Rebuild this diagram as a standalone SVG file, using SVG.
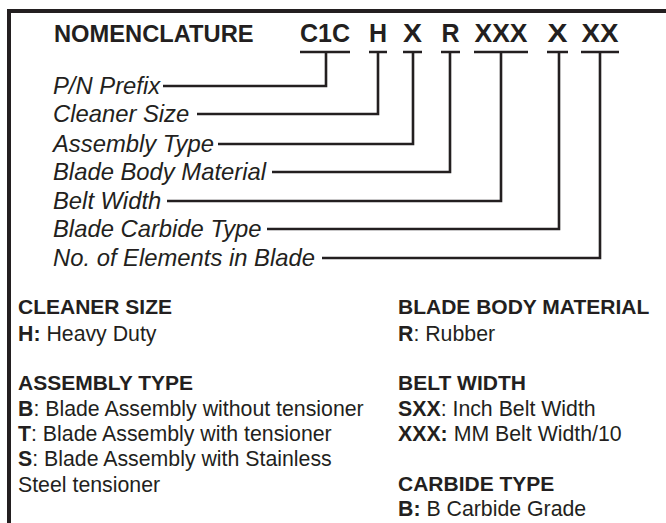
<svg xmlns="http://www.w3.org/2000/svg" width="666" height="523" viewBox="0 0 666 523">
<style>
text{fill:#231f20;font-family:"Liberation Sans",Arial,sans-serif}
.hd{font-size:23.7px;font-weight:bold}
.code{font-size:25px;font-weight:bold;text-anchor:middle}
.lbl{font-size:23.8px;font-style:italic}
.sec{font-size:21px;font-weight:bold}
.body{font-size:21.3px}
.body tspan.k{font-weight:bold}
.ln{fill:none;stroke:#231f20;stroke-width:2.6}
.frame{fill:none;stroke:#231f20;stroke-width:4}
</style>
<rect width="666" height="523" fill="#fff"/>
<path class="frame" d="M9,523 V11 H666"/>
<g id="header">
<text class="hd" x="54" y="42">NOMENCLATURE</text>
<text class="code" x="325" y="42" textLength="50" lengthAdjust="spacingAndGlyphs">C1C</text>
<text class="code" x="378" y="42">H</text>
<text class="code" x="412.5" y="42" textLength="19" lengthAdjust="spacingAndGlyphs">X</text>
<text class="code" x="450.5" y="42">R</text>
<text class="code" x="501" y="42" textLength="53" lengthAdjust="spacingAndGlyphs">XXX</text>
<text class="code" x="557.5" y="42" textLength="20" lengthAdjust="spacingAndGlyphs">X</text>
<text class="code" x="600" y="42" textLength="37" lengthAdjust="spacingAndGlyphs">XX</text>
</g>
<g id="labels">
<text class="lbl" x="53" y="94">P/N Prefix</text>
<text class="lbl" x="53" y="122">Cleaner Size</text>
<text class="lbl" x="53" y="152">Assembly Type</text>
<text class="lbl" x="53" y="180">Blade Body Material</text>
<text class="lbl" x="53" y="209">Belt Width</text>
<text class="lbl" x="53" y="237">Blade Carbide Type</text>
<text class="lbl" x="53" y="266">No. of Elements in Blade</text>
</g>
<g id="connectors">
<path class="ln" d="M300,52 H350 M326,52 V86 H163"/>
<path class="ln" d="M369,52 H387 M378,52 V114 H197"/>
<path class="ln" d="M403,52 H422 M413,52 V144 H218"/>
<path class="ln" d="M441,52 H460 M450,52 V172 H272"/>
<path class="ln" d="M474,52 H528 M501,52 V201 H167"/>
<path class="ln" d="M547,52 H568 M559,52 V229 H267"/>
<path class="ln" d="M581,52 H619 M600,52 V258 H322"/>
</g>
<g id="cleaner-size">
<text class="sec" x="18" y="314">CLEANER SIZE</text>
<text class="body" x="18" y="341"><tspan class="k">H:</tspan> Heavy Duty</text>
</g>
<g id="assembly-type">
<text class="sec" x="18" y="390">ASSEMBLY TYPE</text>
<text class="body" x="18" y="416"><tspan class="k">B</tspan>: Blade Assembly without tensioner</text>
<text class="body" x="18" y="441"><tspan class="k">T</tspan>: Blade Assembly with tensioner</text>
<text class="body" x="18" y="466"><tspan class="k">S</tspan>: Blade Assembly with Stainless</text>
<text class="body" x="18" y="492">Steel tensioner</text>
</g>
<g id="blade-body-material">
<text class="sec" x="398" y="314">BLADE BODY MATERIAL</text>
<text class="body" x="398" y="341"><tspan class="k">R</tspan>: Rubber</text>
</g>
<g id="belt-width">
<text class="sec" x="398" y="390">BELT WIDTH</text>
<text class="body" x="398" y="416"><tspan class="k">SXX</tspan>: Inch Belt Width</text>
<text class="body" x="398" y="441"><tspan class="k">XXX:</tspan> MM Belt Width/10</text>
</g>
<g id="carbide-type">
<text class="sec" x="398" y="491">CARBIDE TYPE</text>
<text class="body" x="398" y="516"><tspan class="k">B:</tspan> B Carbide Grade</text>
</g>
</svg>
